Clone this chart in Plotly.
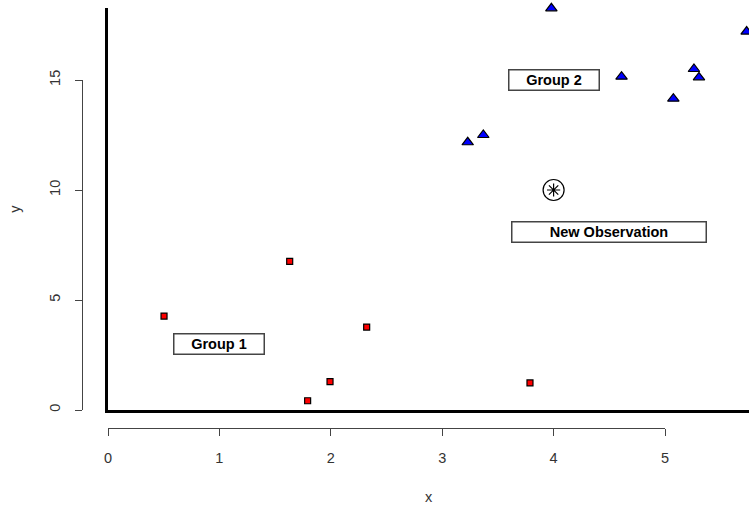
import plotly.graph_objects as go

# Group 1 (red squares)
g1_x = [0.503, 1.631, 2.322, 1.993, 1.792, 3.788]
g1_y = [4.27, 6.76, 3.77, 1.29, 0.42, 1.23]
# Group 2 (blue triangles)
g2_x = [3.98, 5.733, 4.61, 5.26, 5.305, 5.075, 3.229, 3.369]
g2_y = [18.26, 17.2, 15.15, 15.5, 15.12, 14.15, 12.17, 12.5]
# New observation
new_x = [4.0]
new_y = [10.0]

# Text labels
label_text = ["Group 1", "Group 2", "New Observation"]
label_x = [1.0, 4.0, 4.5]
label_y = [3.0, 15.0, 8.07]
label_w = [89, 89, 193]

x_ticks = [0, 1, 2, 3, 4, 5]
y_ticks = [0, 5, 10, 15]

W, H = 749, 505
FONT = "Liberation Sans, Arial, sans-serif"
FS = 14.5

fig = go.Figure()
# dummy trace to activate R-style offset axes (drawn first, invisible)
fig.add_trace(go.Scatter(x=x_ticks, y=y_ticks[:1] * len(x_ticks), mode="markers",
                         xaxis="x2", yaxis="y2",
                         marker=dict(opacity=0), hoverinfo="skip"))
fig.add_trace(go.Scatter(x=g1_x, y=g1_y, mode="markers", cliponaxis=False,
                         marker=dict(symbol="square", size=6, color="#FF0000",
                                     line=dict(color="black", width=1.2))))
fig.add_trace(go.Scatter(x=g2_x, y=g2_y, mode="markers", cliponaxis=False,
                         marker=dict(symbol="triangle-up", size=10, color="#0000FF",
                                     line=dict(color="black", width=1.2))))
fig.add_trace(go.Scatter(x=new_x, y=new_y, mode="markers", cliponaxis=False,
                         marker=dict(symbol="circle-open", size=21, color="black",
                                     line=dict(color="black", width=1.2))))
fig.add_trace(go.Scatter(x=new_x, y=new_y, mode="markers", cliponaxis=False,
                         marker=dict(symbol="asterisk-open", size=11, color="black",
                                     line=dict(color="black", width=1.2))))

for t, x, y, w in zip(label_text, label_x, label_y, label_w):
    fig.add_annotation(x=x, y=y, xref="x", yref="y", text="<b>" + t + "</b>",
                       showarrow=False, width=w, height=19, borderpad=0,
                       bordercolor="#444444", borderwidth=1.5, bgcolor="white",
                       font=dict(family=FONT, size=FS, color="black"))

xs = 111.4
ys = 22.0
x0px, y0px = 108, 410
fig.update_layout(
    width=W, height=H,
    margin=dict(l=0, r=0, t=0, b=0, autoexpand=False),
    paper_bgcolor="white", plot_bgcolor="rgba(0,0,0,0)",
    showlegend=False,
    xaxis=dict(domain=[x0px / W, 1], range=[0, (W - x0px) / xs], automargin=False,
               showgrid=False, zeroline=False, showticklabels=False, ticks="",
               showline=True, linecolor="black", linewidth=2.5,
               title=dict(text="x", standoff=81,
                          font=dict(family=FONT, size=FS, color="#333333"))),
    yaxis=dict(domain=[(H - y0px) / H, (H - 8) / H], range=[0, (y0px - 8) / ys],
               automargin=False,
               showgrid=False, zeroline=False, showticklabels=False, ticks="",
               showline=True, linecolor="black", linewidth=2.5,
               title=dict(text="y", standoff=82,
                          font=dict(family=FONT, size=FS, color="#333333"))),
    xaxis2=dict(domain=[x0px / W, (x0px + 5 * xs) / W], range=[0, 5],
                anchor="free", position=(H - 428) / H, automargin=False,
                showgrid=False, zeroline=False, showline=True,
                linecolor="#444444", linewidth=1, ticks="outside", ticklen=7,
                tickcolor="#444444", tickvals=x_ticks, ticklabelstandoff=10,
                tickfont=dict(family=FONT, size=FS, color="#333333")),
    yaxis2=dict(domain=[(H - y0px) / H, (H - (y0px - 15 * ys)) / H], range=[0, 15],
                anchor="free", position=82 / W, automargin=False,
                showgrid=False, zeroline=False, showline=True,
                linecolor="#444444", linewidth=1, ticks="outside", ticklen=7,
                tickcolor="#444444", tickvals=y_ticks, tickangle=-90,
                ticklabelstandoff=9,
                tickfont=dict(family=FONT, size=FS, color="#333333")),
)

fig.write_html("out.html")
